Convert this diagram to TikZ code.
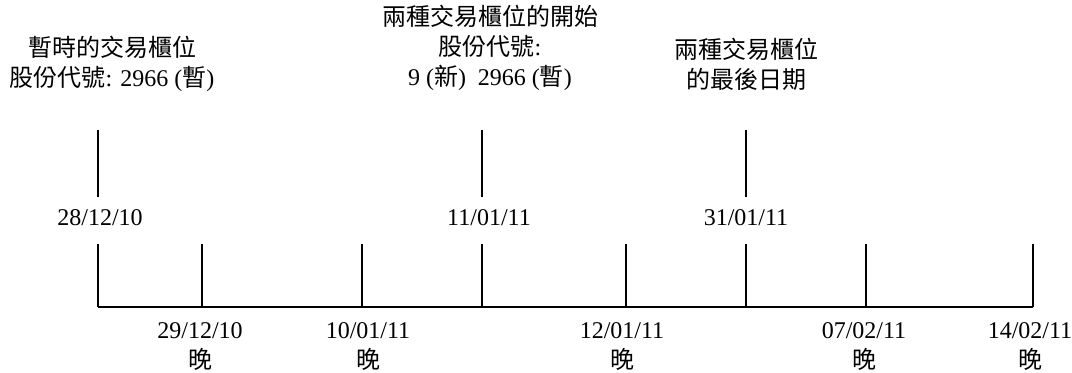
\documentclass[tikz,border=0pt]{standalone}
\usepackage{fontspec}
\setmainfont{Liberation Serif}
\newfontfamily\cjk{Noto Sans CJK TC}
\begin{document}
\begin{tikzpicture}[x=0.5pt,y=-0.5pt]
\tikzstyle{every node} = [inner sep=0,font=\fontsize{12}{15}\selectfont,align=center];
\tikzstyle{tick} = [line width=1pt];
\useasboundingbox (0,0) rectangle (1072,372);
% ticks on the axis
\foreach \x/\l in {98/0, 202/1, 362/2, 482/3, 626/4, 746/5, 866/6, 1033/7}{
	\coordinate (t\l) at (\x,244);
	\coordinate (b\l) at (\x,307);
	\draw [tick] (t\l) -- (b\l);
}
\draw [tick] (b0) -- (b7);
% marked days
\foreach \x/\l in {98/0, 482/3, 746/5}{
	\coordinate (u\l) at (\x,130);
	\coordinate (v\l) at (\x,197);
	\draw [tick] (u\l) -- (v\l);
}
\node (d0) at (100,218) {28/12/10};
\node (d3) at (489,218) {11/01/11};
\node (d5) at (746,218) {31/01/11};
% evenings below
\foreach \x/\l/\d in {200/1/{29/12/10}, 368/2/{10/01/11}, 622/4/{12/01/11}, 864/6/{07/02/11}, 1030/7/{14/02/11}}{
	\node (e\l) at (\x,347) {\d\\{\cjk 晚}};
}
% notes above
\node (n0) at (112,64) {{\cjk 暫時的交易櫃位}\\{\cjk 股份代號}: 2966 ({\cjk 暫})};
\node (n3) at (490,48) {{\cjk 兩種交易櫃位的開始}\\{\cjk 股份代號}:\\9 ({\cjk 新})\ \ 2966 ({\cjk 暫})};
\node (n5) at (746,64) {{\cjk 兩種交易櫃位}\\{\cjk 的最後日期}};
\end{tikzpicture}
\end{document}
